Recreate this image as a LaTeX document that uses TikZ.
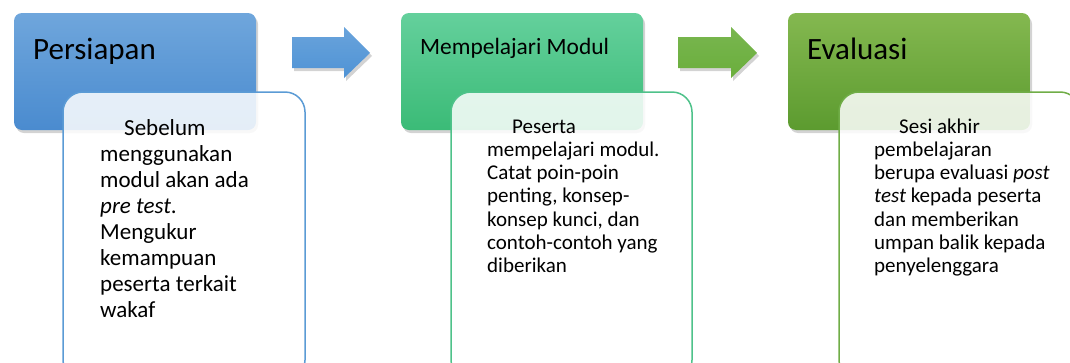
\documentclass[tikz,border=0pt]{standalone}
\usepackage{fontspec}
\setmainfont{Carlito}
\usetikzlibrary{shadows}
\definecolor{bluetop}{HTML}{6FA6DC}
\definecolor{bluebot}{HTML}{4A8BCF}
\definecolor{blueline}{HTML}{5B9BD5}
\definecolor{bluearrow}{HTML}{4F93D5}
\definecolor{tealtop}{HTML}{64D09C}
\definecolor{tealbot}{HTML}{3BBB77}
\definecolor{tealline}{HTML}{4EC28A}
\definecolor{greentop}{HTML}{84B850}
\definecolor{greenbot}{HTML}{5C9B2F}
\definecolor{greenline}{HTML}{70AD47}
\definecolor{greenarrow}{HTML}{6AAE3C}
\tikzset{
  x=1pt, y=-1pt,
  header/.style={rounded corners=8pt, drop shadow={opacity=0.35, shadow xshift=2pt, shadow yshift=-3pt}},
  detail/.style={rounded corners=20pt, line width=1.5pt, fill=white, fill opacity=0.85},
  arrowshape/.style={drop shadow={opacity=0.35, shadow xshift=2pt, shadow yshift=-3pt}},
  headtext/.style={anchor=base west, inner sep=0pt, font=\fontsize{31}{34}\selectfont},
  bodytext/.style={anchor=base west, inner sep=0pt, align=left},
}
\begin{document}
\begin{tikzpicture}
\useasboundingbox (0,0) rectangle (1070,362);
\clip (0,0) rectangle (1070,362);
% headers
\path[header, top color=bluetop, bottom color=bluebot] (14,13) rectangle (256,130);
\path[header, top color=tealtop, bottom color=tealbot] (401,13) rectangle (643,130);
\path[header, top color=greentop, bottom color=greenbot] (788,13) rectangle (1030,130);
\node[headtext] (h1) at (33,59) {Persiapan};
\node[headtext, font=\fontsize{23.4}{26}\selectfont] (h2) at (420,54) {Mempelajari Modul};
\node[headtext] (h3) at (807,59) {Evaluasi};
% arrows
\path[arrowshape, top color=bluearrow!85!white, bottom color=bluearrow]
  (292,37) -- (344,37) -- (344,27) -- (370,53) -- (344,78) -- (344,68) -- (292,68) -- cycle;
\path[arrowshape, top color=greenarrow!90!white, bottom color=greenarrow]
  (678,37) -- (731,37) -- (731,27) -- (757,53) -- (731,78) -- (731,68) -- (678,68) -- cycle;
% detail boxes
\draw[detail, draw=blueline] (63,92) rectangle (305,380);
\draw[detail, draw=tealline] (451,92) rectangle (692,380);
\draw[detail, draw=greenline] (839,92) rectangle (1080,380);
% texts
\node[bodytext] (t1) at (100,135) {\parbox[t]{200pt}{\raggedright\fontsize{23}{26}\selectfont
\hspace*{24pt}Sebelum\\ menggunakan\\ modul akan ada\\ \textit{pre test}.\\ Mengukur\\ kemampuan\\ peserta terkait\\ wakaf}};
\node[bodytext] (t2) at (487,133) {\parbox[t]{200pt}{\raggedright\fontsize{21}{23.3}\selectfont
\hspace*{25pt}Peserta\\ mempelajari modul.\\ Catat poin-poin\\ penting, konsep-\\ konsep kunci, dan\\ contoh-contoh yang\\ diberikan}};
\node[bodytext] (t3) at (874,133) {\parbox[t]{200pt}{\raggedright\fontsize{21}{23.3}\selectfont
\hspace*{25pt}Sesi akhir\\ pembelajaran\\ berupa evaluasi \textit{post}\\ \textit{test} kepada peserta\\ dan memberikan\\ umpan balik kepada\\ penyelenggara}};
\end{tikzpicture}
\end{document}
